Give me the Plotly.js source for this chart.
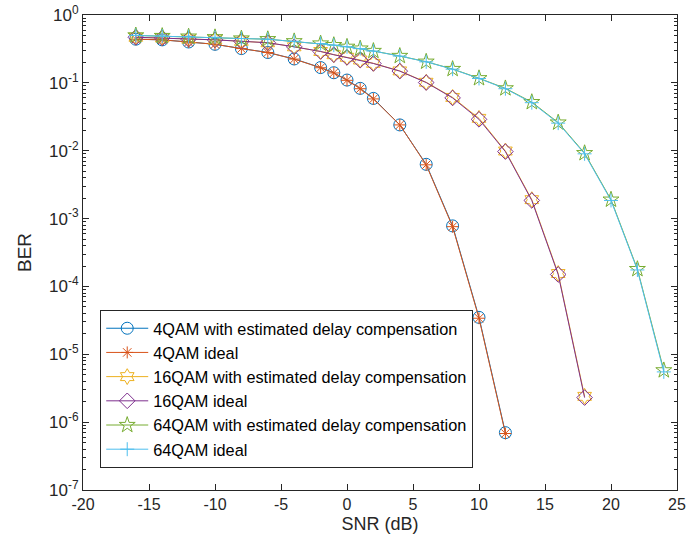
<!DOCTYPE html>
<html>
<head>
<meta charset="utf-8">
<script src="https://cdn.plot.ly/plotly-3.0.1.min.js"></script>
<style>html,body{margin:0;padding:0;background:#fff;} #chart{width:689px;height:546px;}</style>
</head>
<body>
<div id="chart"></div>
<script>
// SNR values (dB)
const snr4 = [-16, -14, -12, -10, -8, -6, -4, -2, -1, 0, 1, 2, 4, 6, 8, 10, 12];
const snr16 = [-16, -14, -12, -10, -8, -6, -4, -2, -1, 0, 1, 2, 4, 6, 8, 10, 12, 14, 16, 18];
const snr64 = [-16, -14, -12, -10, -8, -6, -4, -2, -1, 0, 1, 2, 4, 6, 8, 10, 12, 14, 16, 18, 20, 22, 24];

// BER values
const ber4Est   = [0.44, 0.43, 0.40, 0.37, 0.32, 0.28, 0.225, 0.168, 0.141, 0.110, 0.083, 0.059, 0.024, 0.0063, 7.8e-4, 3.5e-5, 7.0e-7];
const ber4Ideal = [0.44, 0.43, 0.40, 0.37, 0.32, 0.28, 0.224, 0.167, 0.140, 0.109, 0.082, 0.058, 0.024, 0.0062, 7.6e-4, 3.4e-5, 6.8e-7];
const ber16Est   = [0.47, 0.46, 0.44, 0.43, 0.41, 0.39, 0.34, 0.29, 0.26, 0.238, 0.217, 0.194, 0.150, 0.102, 0.061, 0.030, 0.0099, 0.0019, 1.55e-4, 2.4e-6];
const ber16Ideal = [0.47, 0.46, 0.44, 0.43, 0.41, 0.39, 0.34, 0.29, 0.26, 0.237, 0.216, 0.193, 0.149, 0.101, 0.060, 0.029, 0.0097, 0.00185, 1.5e-4, 2.3e-6];
const ber64Est   = [0.50, 0.49, 0.48, 0.47, 0.45, 0.44, 0.41, 0.38, 0.36, 0.34, 0.32, 0.295, 0.249, 0.205, 0.160, 0.117, 0.083, 0.052, 0.026, 0.0092, 0.00190, 1.8e-4, 5.8e-6];
const ber64Ideal = [0.50, 0.49, 0.48, 0.47, 0.45, 0.44, 0.41, 0.38, 0.36, 0.34, 0.32, 0.294, 0.248, 0.204, 0.159, 0.116, 0.082, 0.051, 0.0255, 0.0090, 0.00185, 1.75e-4, 5.5e-6];

const names = [
  "4QAM with estimated delay compensation",
  "4QAM ideal",
  "16QAM with estimated delay compensation",
  "16QAM ideal",
  "64QAM with estimated delay compensation",
  "64QAM ideal"
];
const xTickVals = [-20, -15, -10, -5, 0, 5, 10, 15, 20, 25];
const xTickText = ["-20", "-15", "-10", "-5", "0", "5", "10", "15", "20", "25"];
const yTickVals = [1e-7, 1e-6, 1e-5, 1e-4, 1e-3, 1e-2, 1e-1, 1];
const yTickText = ["10<sup>-7</sup>", "10<sup>-6</sup>", "10<sup>-5</sup>", "10<sup>-4</sup>", "10<sup>-3</sup>", "10<sup>-2</sup>", "10<sup>-1</sup>", "10<sup>0</sup>"];

const minorVals = [];
for (let e = -7; e < 0; e++) for (let m = 2; m <= 9; m++) minorVals.push(m * Math.pow(10, e));

function tr(x, y, name, color, symbol, size) {
  return {
    x: x, y: y, name: name, type: 'scatter', mode: 'lines+markers',
    line: {color: color, width: 1},
    marker: {symbol: symbol, size: size, color: color, line: {color: color, width: 1}}
  };
}

const data = [
  tr(snr4, ber4Est, names[0], '#0072BD', 'circle-open', 12),
  tr(snr4, ber4Ideal, names[1], '#D95319', 'asterisk-open', 10),
  tr(snr16, ber16Est, names[2], '#EDB120', 'hexagram-open', 12),
  tr(snr16, ber16Ideal, names[3], '#7E2F8E', 'diamond-open', 12),
  tr(snr64, ber64Est, names[4], '#77AC30', 'star-open', 12),
  tr(snr64, ber64Ideal, names[5], '#4DBEEE', 'cross-thin-open', 10)
];

const axisCommon = {
  showline: true, linecolor: '#262626', linewidth: 1, mirror: 'allticks',
  ticks: 'inside', ticklen: 6, tickcolor: '#262626', tickwidth: 1,
  showgrid: false, zeroline: false
};

const layout = {
  width: 689, height: 546,
  margin: {l: 83, r: 12, t: 15, b: 56},
  paper_bgcolor: '#fff', plot_bgcolor: '#fff',
  font: {family: 'Liberation Sans, Arial, sans-serif', color: '#262626'},
  xaxis: Object.assign({}, axisCommon, {
    range: [-20, 25], tickmode: 'array', tickvals: xTickVals, ticktext: xTickText,
    tickfont: {family: 'Liberation Sans, Arial, sans-serif', size: 16, color: '#262626'},
    title: {text: 'SNR (dB)', font: {size: 18, color: '#262626'}, standoff: 5}
  }),
  yaxis: Object.assign({}, axisCommon, {
    type: 'log', range: [-7, 0],
    tickmode: 'array', tickvals: yTickVals, ticktext: yTickText,
    tickfont: {family: 'Liberation Sans, Arial, sans-serif', size: 17, color: '#262626'},
    minor: {ticks: 'inside', ticklen: 3, tickcolor: '#262626', tickmode: 'array', tickvals: minorVals},
    title: {text: 'BER', font: {size: 19, color: '#262626'}, standoff: 12}
  }),
  showlegend: true,
  legend: {
    x: 0.029, y: 0.046, xanchor: 'left', yanchor: 'bottom',
    bgcolor: '#fff', bordercolor: '#262626', borderwidth: 1,
    font: {size: 16.3, color: '#000'},
    itemwidth: 42,
    tracegroupgap: 0
  }
};

Plotly.newPlot('chart', data, layout, {staticPlot: true, displayModeBar: false});
</script>
</body>
</html>
